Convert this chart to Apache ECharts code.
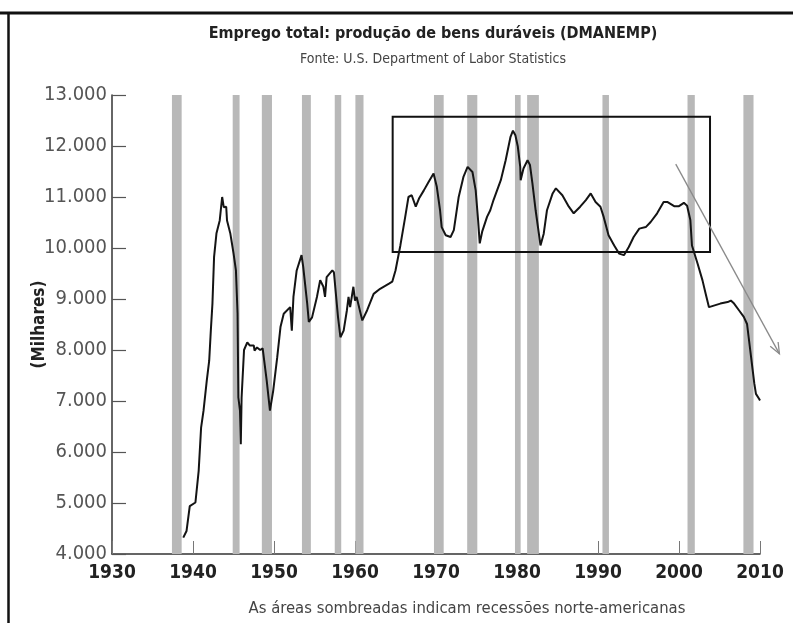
<!DOCTYPE html>
<html>
<head>
<meta charset="utf-8">
<script src="https://cdn.jsdelivr.net/npm/echarts@6/dist/echarts.min.js"></script>
<style>
html,body{margin:0;padding:0;background:#fff;}
#chart{width:793px;height:623px;}
</style>
</head>
<body>
<div id="chart"></div>
<script>
// ---- data ----
const years = [1938.8,1939.2,1939.6,1940.3,1940.7,1941.0,1941.3,1941.7,1942.0,1942.2,1942.4,1942.6,1942.9,1943.3,1943.6,1943.8,1944.1,1944.2,1944.6,1945.0,1945.3,1945.5,1945.6,1945.8,1945.9,1946.0,1946.3,1946.7,1947.0,1947.5,1947.6,1947.9,1948.3,1948.6,1949.1,1949.5,1949.9,1950.4,1950.8,1951.2,1952.0,1952.2,1952.4,1952.8,1953.4,1953.6,1954.1,1954.3,1954.7,1955.3,1955.7,1956.1,1956.3,1956.5,1957.2,1957.4,1957.9,1958.2,1958.6,1959.0,1959.2,1959.4,1959.8,1960.0,1960.2,1960.9,1961.5,1962.3,1963.1,1964.2,1964.6,1965.0,1965.6,1966.2,1966.6,1967.0,1967.5,1967.9,1968.5,1969.1,1969.7,1970.1,1970.5,1970.7,1971.2,1971.8,1972.2,1972.8,1973.4,1973.9,1974.5,1974.9,1975.2,1975.4,1975.7,1976.3,1976.7,1977.1,1978.0,1978.6,1979.2,1979.5,1979.8,1980.1,1980.4,1980.45,1980.8,1981.3,1981.6,1981.9,1982.3,1982.7,1982.9,1983.3,1983.7,1984.4,1984.8,1985.6,1986.4,1987.0,1987.8,1988.5,1989.1,1989.7,1990.3,1990.7,1991.3,1992.0,1992.6,1993.2,1993.8,1994.4,1995.1,1995.9,1996.5,1997.3,1998.1,1998.6,1999.4,2000.0,2000.6,2001.0,2001.4,2001.6,2002.3,2002.9,2003.3,2003.7,2004.3,2005.1,2006.0,2006.4,2006.8,2007.4,2008.0,2008.4,2008.6,2008.9,2009.1,2009.3,2009.5,2009.9,2010.0];
const employment = [4320,4450,4940,5010,5630,6480,6810,7400,7790,8380,8910,9820,10290,10540,11000,10800,10810,10540,10290,9900,9560,8720,7070,6810,6150,7070,8000,8150,8090,8090,7990,8050,8000,8030,7400,6810,7200,7860,8450,8710,8840,8380,9040,9560,9860,9640,8910,8550,8640,9040,9370,9240,9040,9430,9560,9520,8650,8250,8380,8780,9040,8840,9240,8970,9040,8580,8780,9100,9200,9300,9340,9560,10050,10610,11000,11035,10810,10970,11130,11300,11460,11200,10740,10410,10250,10215,10350,11000,11400,11590,11490,11130,10540,10090,10320,10610,10740,10940,11330,11720,12180,12300,12210,11990,11590,11330,11560,11720,11630,11270,10740,10280,10050,10280,10740,11070,11170,11035,10810,10680,10810,10940,11070,10900,10810,10610,10250,10050,9890,9860,10020,10215,10380,10410,10510,10680,10900,10900,10820,10820,10885,10830,10550,10050,9690,9365,9100,8840,8870,8910,8940,8970,8910,8780,8650,8510,8250,7860,7600,7340,7140,7040,7010];
const recessionStart = [1937.4,1944.9,1948.5,1953.45,1957.5,1960.05,1969.75,1973.85,1979.75,1981.25,1990.55,2001.05,2007.95];
const recessionEnd   = [1938.6,1945.75,1949.75,1954.55,1958.3,1961.05,1970.95,1975.1,1980.45,1982.7,1991.35,2001.95,2009.2];
const boxYears  = [1964.65, 2003.83];
const boxValues = [9921, 12574];
const arrowFrom = [1999.6, 11644];
const arrowTo   = [2012.4, 7925];
const xTicks = [1930,1940,1950,1960,1970,1980,1990,2000,2010];
const yTicks = [4000,5000,6000,7000,8000,9000,10000,11000,12000,13000];

const titleText = 'Emprego total: produção de bens duráveis (DMANEMP)';
const subText = 'Fonte: U.S. Department of Labor Statistics';
const noteText = 'As áreas sombreadas indicam recessões norte-americanas';

const NARROW = "'Liberation Sans Narrow','Arial Narrow','DejaVu Sans Condensed',sans-serif";
const fmt = v => String(v).replace(/\B(?=(\d{3})+(?!\d))/g, '.');

const chart = echarts.init(document.getElementById('chart'), null, {renderer:'canvas'});
const frame = [
  {type:'line', shape:{x1:0,y1:13,x2:793,y2:13}, style:{stroke:'#111', lineWidth:3}},
  {type:'line', shape:{x1:8.5,y1:12,x2:8.5,y2:623}, style:{stroke:'#111', lineWidth:2.5}}
];
chart.setOption({
  backgroundColor:'#fff',
  animation:false,
  title:[
    {text:titleText, left:428, top:21, textAlign:'center',
     textStyle:{fontFamily:NARROW, fontSize:16, fontWeight:'bold', color:'#222'}},
    {text:subText, left:428, top:47, textAlign:'center',
     textStyle:{fontFamily:NARROW, fontSize:14, fontWeight:'normal', color:'#444'}},
    {text:noteText, left:462, top:595, textAlign:'center',
     textStyle:{fontFamily:NARROW, fontSize:16.5, fontWeight:'normal', color:'#444'}}
  ],
  graphic:frame,
  grid:{left:112, right:33, top:95, bottom:69},
  xAxis:{
    type:'value', min:1930, max:2010, interval:10,
    axisLine:{show:true, lineStyle:{color:'#333', width:1.5}},
    axisTick:{show:true, inside:true, length:13, lineStyle:{color:'#777', width:1}},
    axisLabel:{fontFamily:NARROW, fontSize:19, fontWeight:'bold', color:'#222', margin:10,
      formatter:v => xTicks.includes(v) ? String(v) : ''},
    splitLine:{show:false}
  },
  yAxis:{
    type:'value', min:4000, max:13000, interval:1000,
    name:'(Milhares)', nameLocation:'middle', nameGap:64, nameRotate:90, nameMoveOverlap:false,
    nameTextStyle:{fontFamily:NARROW, fontSize:17, fontWeight:'bold', color:'#222'},
    axisLine:{show:true, lineStyle:{color:'#333', width:1.5}},
    axisTick:{show:true, inside:true, length:14, lineStyle:{color:'#555', width:1.2}},
    axisLabel:{fontFamily:NARROW, fontSize:20, color:'#555', margin:5,
      formatter:v => yTicks.includes(v) ? fmt(v) : ''},
    splitLine:{show:false}
  },
  series:[
    {type:'line', data:[], z:1, silent:true,
     markArea:{silent:true, itemStyle:{color:'#b8b8b8', opacity:1},
       data:recessionStart.map((s,i)=>[{xAxis:s},{xAxis:recessionEnd[i]}])}},
    {type:'line', data:years.map((y,i)=>[y, employment[i]]), z:3,
     symbol:'none', lineStyle:{color:'#141414', width:2}},
    {type:'line', data:[], z:4, silent:true,
     markArea:{silent:true, itemStyle:{color:'rgba(0,0,0,0)', borderColor:'#111', borderWidth:2},
       data:[[{coord:[boxYears[0], boxValues[0]]},{coord:[boxYears[1], boxValues[1]]}]]}}
  ]
});

// arrow (extends past the plot edge) drawn through the grid's own scale
const p0 = chart.convertToPixel({gridIndex:0}, arrowFrom);
const p1 = chart.convertToPixel({gridIndex:0}, arrowTo);
const dx = p1[0]-p0[0], dy = p1[1]-p0[1], L = Math.hypot(dx,dy);
const ux = dx/L, uy = dy/L, nx = -uy, ny = ux;
const hl = 11, hw = 4.5;
chart.setOption({
  graphic: frame.concat([
    {type:'line', z:10, shape:{x1:p0[0],y1:p0[1],x2:p1[0],y2:p1[1]},
     style:{stroke:'#8a8a8a', lineWidth:1.3}},
    {type:'polyline', z:10, shape:{points:[
      [p1[0]-ux*hl+nx*hw, p1[1]-uy*hl+ny*hw], [p1[0],p1[1]], [p1[0]-ux*hl-nx*hw, p1[1]-uy*hl-ny*hw]]},
     style:{stroke:'#8a8a8a', lineWidth:1.3, fill:null}}
  ])
});
</script>
</body>
</html>
